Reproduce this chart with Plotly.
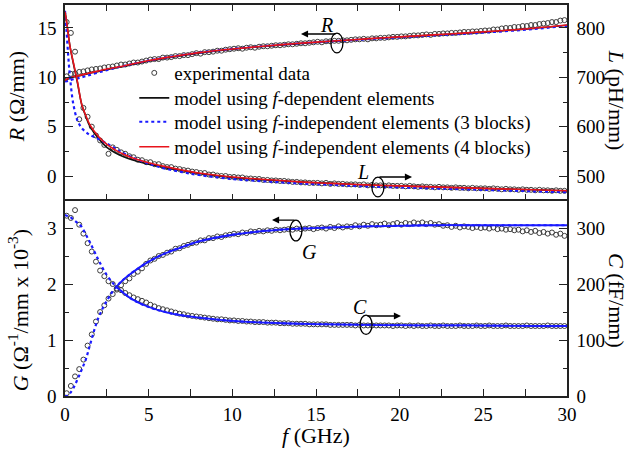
import numpy as np
import plotly.graph_objects as go
from plotly.subplots import make_subplots

# ---------------- data ----------------
# measurement sweep (GHz): 0.1, 0.35, ..., 29.85
f_exp = np.round(0.1 + 0.25 * np.arange(120), 2)

R_exp = [10.1, 10.35, 10.4, 10.55, 10.6, 10.7, 10.8, 10.85, 10.9, 11.0,
         11.05, 11.1, 11.2, 11.3, 11.3, 11.4, 11.5, 11.5, 11.6, 11.7,
         11.8, 11.85, 11.85, 12.0, 12.0, 12.05, 12.15, 12.15, 12.25, 12.25,
         12.35, 12.45, 12.4, 12.55, 12.55, 12.6, 12.7, 12.7, 12.8, 12.85,
         12.9, 12.95, 12.9, 13.0, 13.05, 13.0, 13.1, 13.15, 13.15, 13.2,
         13.25, 13.25, 13.3, 13.35, 13.35, 13.4, 13.45, 13.45, 13.5, 13.55,
         13.6, 13.55, 13.65, 13.65, 13.7, 13.7, 13.75, 13.75, 13.8, 13.85,
         13.85, 13.9, 13.85, 13.95, 13.95, 14.0, 14.0, 14.05, 14.1, 14.1,
         14.15, 14.15, 14.2, 14.25, 14.25, 14.3, 14.35, 14.3, 14.4, 14.4,
         14.45, 14.45, 14.5, 14.5, 14.55, 14.6, 14.6, 14.65, 14.65, 14.7,
         14.75, 14.75, 14.85, 14.85, 14.95, 15.0, 15.0, 15.1, 15.1, 15.2,
         15.2, 15.3, 15.3, 15.4, 15.45, 15.5, 15.6, 15.6, 15.75, 15.8]

L_exp = [812, 790, 752, 615, 638, 620, 600, 582, 572, 563,
         545, 558, 553, 548, 545, 540, 538, 533, 532, 528,
         528, 524, 524, 520, 518, 518, 515, 514, 512, 511,
         509, 508, 506, 506, 503, 503, 501, 500, 500, 498,
         498, 497, 497, 495, 495, 494, 494, 492, 492, 491,
         491, 490, 490, 489, 488, 488, 487, 487, 486, 486,
         486, 485, 486, 484, 485, 484, 484, 483, 483, 483,
         482, 483, 481, 482, 481, 481, 480, 481, 480, 480,
         480, 479, 480, 479, 478, 479, 478, 478, 477, 478,
         477, 477, 476, 477, 476, 476, 475, 476, 475, 475,
         475, 474, 475, 474, 473, 474, 473, 473, 472, 473,
         472, 472, 471, 472, 471, 471, 470, 471, 470, 470]

G_exp = [0.05, 0.18, 0.35, 0.48, 0.65, 0.9, 1.1, 1.33, 1.5, 1.62,
         1.74, 1.82, 1.9, 1.98, 2.05, 2.1, 2.18, 2.22, 2.28, 2.36,
         2.42, 2.45, 2.5, 2.52, 2.56, 2.58, 2.63, 2.64, 2.68, 2.7,
         2.73, 2.74, 2.78, 2.78, 2.82, 2.82, 2.85, 2.84, 2.87, 2.88,
         2.9, 2.89, 2.92, 2.91, 2.94, 2.93, 2.95, 2.94, 2.96, 2.95,
         2.97, 2.96, 2.97, 2.98, 2.97, 2.99, 2.98, 2.99, 3.0, 2.98,
         3.0, 3.01, 2.99, 3.02, 3.0, 3.03, 3.01, 3.03, 3.02, 3.05,
         3.03, 3.06, 3.04, 3.07, 3.05, 3.06, 3.08, 3.05, 3.07, 3.09,
         3.06, 3.09, 3.07, 3.1, 3.08, 3.1, 3.07, 3.09, 3.06, 3.07,
         3.04, 3.05, 3.02, 3.04, 3.01, 3.03, 3.02, 3.0, 3.02, 3.0,
         3.01, 2.99, 3.01, 2.98, 2.99, 2.97, 2.98, 2.96, 2.97, 2.94,
         2.96, 2.93, 2.95, 2.91, 2.93, 2.9, 2.92, 2.88, 2.9, 2.86]

C_exp = [322, 318, 332, 306, 290, 273, 258, 240, 224, 214,
         205, 200, 192, 189, 184, 180, 176, 173, 170, 167,
         163, 160, 157, 155, 153, 151, 149, 147, 146, 144,
         143, 142, 141, 140, 139, 138, 137, 137, 136, 135,
         135, 134, 134, 133, 133, 132, 132, 132, 131, 131,
         131, 130, 130, 130, 129, 129, 129, 129, 128, 128,
         128, 128, 128, 127, 127, 127, 127, 127, 127, 126,
         127, 126, 126, 126, 126, 126, 126, 126, 125, 126,
         126, 125, 126, 125, 126, 125, 125, 126, 125, 125,
         126, 125, 125, 125, 126, 125, 125, 125, 126, 125,
         125, 126, 125, 125, 125, 126, 125, 125, 125, 125,
         126, 125, 125, 125, 125, 126, 125, 125, 125, 125]

# model curves
f_mod = [0, 0.1, 0.2, 0.3, 0.5, 0.75, 1, 1.25, 1.5, 2, 2.5, 3, 3.5, 4, 5, 6, 7, 8,
         10, 12, 14, 16, 18, 20, 22, 24, 26, 28, 30]

R_fdep = [9.65, 9.75, 9.85, 9.92, 10.02, 10.12, 10.22, 10.32, 10.42, 10.6, 10.8, 10.95,
          11.1, 11.3, 11.65, 11.95, 12.2, 12.45, 12.85, 13.15, 13.42, 13.66, 13.88,
          14.08, 14.28, 14.48, 14.7, 14.96, 15.28]
R_3blk = [9.6, 9.6, 9.65, 9.7, 9.8, 9.9, 10.0, 10.12, 10.25, 10.5, 10.72, 10.95,
          11.15, 11.35, 11.7, 12.0, 12.25, 12.5, 12.88, 13.18, 13.44, 13.66, 13.86,
          14.05, 14.24, 14.43, 14.64, 14.9, 15.22]
R_4blk = [9.7, 9.8, 9.9, 9.95, 10.05, 10.15, 10.25, 10.35, 10.45, 10.65, 10.85, 11.0,
          11.15, 11.35, 11.7, 12.0, 12.25, 12.5, 12.87, 13.18, 13.45, 13.68, 13.9,
          14.1, 14.3, 14.5, 14.72, 14.98, 15.3]

L_fdep = [833, 812, 786, 762, 728, 688, 645, 620, 600, 576, 558, 547, 539, 533,
          524, 517, 511, 505, 497, 492, 488, 485, 482, 480, 478, 476, 474, 472, 470]
L_3blk = [835, 790, 740, 700, 645, 612, 597, 589, 583, 575, 566, 556, 546, 538,
          525, 515, 508, 502, 494, 489, 485, 482, 479, 477, 475, 473, 471, 469, 467]
L_4blk = [833, 812, 786, 762, 730, 690, 645, 622, 603, 580, 564, 553, 544, 537,
          527, 519, 512, 506, 498, 493, 488, 485, 482, 480, 478, 476, 474, 472, 470]

G_mod = [0.0, 0.0, 0.02, 0.05, 0.14, 0.3, 0.47, 0.66, 0.92, 1.4, 1.7, 1.93, 2.08, 2.2,
         2.4, 2.55, 2.66, 2.76, 2.88, 2.95, 2.99, 3.01, 3.03, 3.04, 3.05, 3.05, 3.05,
         3.05, 3.05]
C_mod = [323, 322, 321, 320, 315, 309, 302, 288, 274, 243, 216, 197, 184, 173,
         159, 150, 144, 140, 134, 131, 129, 128, 127, 126.5, 126, 126, 125.5, 125, 125]

# x tick positions / labels (labels only at multiples of 5)
x_tickvals = [0, 2.5, 5, 7.5, 10, 12.5, 15, 17.5, 20, 22.5, 25, 27.5, 30]
x_ticktext = ["0", "", "5", "", "10", "", "15", "", "20", "", "25", "", "30"]

# ---------------- figure ----------------
FONT = "Times New Roman, Liberation Serif, DejaVu Serif, serif"
BLACK = "#111111"
BLUE = "#1a1aff"
RED = "#e8141c"
GRAY = "#3c3c3c"

fig = make_subplots(rows=2, cols=1, shared_xaxes=False, vertical_spacing=0,
                    specs=[[{"secondary_y": True}], [{"secondary_y": True}]])

mk = dict(symbol="circle-open", size=5, color=GRAY, line=dict(width=1))
dot = dict(color=BLUE, width=2.2, dash="3px,3px")

# top panel: R (left) and L (right); one single-entry legend per series
fig.add_trace(go.Scatter(x=f_exp, y=R_exp, mode="markers", marker=mk, legend="legend",
                         name="experimental data"), row=1, col=1, secondary_y=False)
fig.add_trace(go.Scatter(x=f_mod, y=R_fdep, mode="lines", legend="legend2",
                         line=dict(color=BLACK, width=1.6, shape="spline"),
                         name="model using <i>f</i>-dependent elements"), row=1, col=1, secondary_y=False)
fig.add_trace(go.Scatter(x=f_mod, y=R_3blk, mode="lines", legend="legend3",
                         line=dict(**dot, shape="spline"),
                         name="model using <i>f</i>-independent elements (3 blocks)"), row=1, col=1, secondary_y=False)
fig.add_trace(go.Scatter(x=f_mod, y=R_4blk, mode="lines", legend="legend4",
                         line=dict(color=RED, width=1.6, shape="spline"),
                         name="model using <i>f</i>-independent elements (4 blocks)"), row=1, col=1, secondary_y=False)

fig.add_trace(go.Scatter(x=f_exp, y=L_exp, mode="markers", marker=mk, showlegend=False),
              row=1, col=1, secondary_y=True)
fig.add_trace(go.Scatter(x=f_mod, y=L_fdep, mode="lines", line=dict(color=BLACK, width=1.6, shape="spline"),
                         showlegend=False), row=1, col=1, secondary_y=True)
fig.add_trace(go.Scatter(x=f_mod, y=L_3blk, mode="lines", line=dict(**dot, shape="spline"),
                         showlegend=False), row=1, col=1, secondary_y=True)
fig.add_trace(go.Scatter(x=f_mod, y=L_4blk, mode="lines", line=dict(color=RED, width=1.6, shape="spline"),
                         showlegend=False), row=1, col=1, secondary_y=True)

# bottom panel: G (left) and C (right)
i3 = f_mod.index(3)
fig.add_trace(go.Scatter(x=f_exp, y=G_exp, mode="markers", marker=mk, showlegend=False),
              row=2, col=1, secondary_y=False)
fig.add_trace(go.Scatter(x=f_mod, y=G_mod, mode="lines", line=dict(**dot, shape="spline"),
                         showlegend=False), row=2, col=1, secondary_y=False)
fig.add_trace(go.Scatter(x=f_mod[i3:], y=G_mod[i3:], mode="lines",
                         line=dict(color=BLUE, width=1.8, shape="spline"), showlegend=False),
              row=2, col=1, secondary_y=False)
fig.add_trace(go.Scatter(x=f_exp, y=C_exp, mode="markers", marker=mk, showlegend=False),
              row=2, col=1, secondary_y=True)
fig.add_trace(go.Scatter(x=f_mod, y=C_mod, mode="lines", line=dict(**dot, shape="spline"),
                         showlegend=False), row=2, col=1, secondary_y=True)
fig.add_trace(go.Scatter(x=f_mod[i3:], y=C_mod[i3:], mode="lines",
                         line=dict(color=BLUE, width=1.8, shape="spline"), showlegend=False),
              row=2, col=1, secondary_y=True)

tickfont = dict(family=FONT, size=19, color="black")
common = dict(showgrid=False, zeroline=False, showline=True, linecolor="#222", linewidth=1.5,
              ticks="inside", tickwidth=1.3, tickcolor="#222", tickfont=tickfont,
              automargin=False)

split = 0.5026
leg = dict(x=0.138, xanchor="left", yanchor="middle", bgcolor="rgba(0,0,0,0)",
           font=dict(family=FONT, size=19, color="black"))
fig.update_layout(
    width=632, height=455, paper_bgcolor="white", plot_bgcolor="white",
    margin=dict(l=65, r=65, t=5, b=59, autoexpand=False),
    font=dict(family=FONT, size=19, color="black"),
    xaxis=dict(domain=[0, 1], range=[0, 30], tickvals=x_tickvals, ticklen=6, mirror="ticks",
               showticklabels=False, **common),
    xaxis2=dict(domain=[0, 1], range=[0, 30], tickvals=x_tickvals, ticktext=x_ticktext,
                ticklen=7, ticklabelstandoff=0, **common),
    # top edge of the lower panel: ticks pointing down into the lower panel
    xaxis3=dict(domain=[0, 1], range=[0, 30], tickvals=x_tickvals, ticklen=6, side="top",
                anchor="y3", overlaying="x2", showticklabels=False, **common),
    yaxis=dict(domain=[split, 1], range=[-2.38, 17.33], dtick=5, tick0=0, ticklen=8, ticklabelstandoff=3,
               minor=dict(ticks="inside", dtick=2.5, ticklen=4, tickcolor="#222"), **common),
    yaxis2=dict(domain=[split, 1], range=[452.4, 846.6], dtick=100, tick0=0, side="right", ticklen=8,
                ticklabelstandoff=4,
                minor=dict(ticks="inside", dtick=50, ticklen=4, tickcolor="#222"), **common),
    yaxis3=dict(domain=[0, split], range=[0, 3.51], dtick=1, tick0=0, ticklen=8, ticklabelstandoff=3,
                minor=dict(ticks="inside", dtick=0.5, ticklen=4, tickcolor="#222"), **common),
    yaxis4=dict(domain=[0, split], range=[0, 351], dtick=100, tick0=0, side="right", ticklen=8,
                ticklabelstandoff=4,
                minor=dict(ticks="inside", dtick=50, ticklen=4, tickcolor="#222"), **common),
    legend=dict(y=0.826, **leg),
    legend2=dict(y=0.762, **leg),
    legend3=dict(y=0.701, **leg),
    legend4=dict(y=0.637, **leg),
    showlegend=True,
)

# axis titles
def ttl(text, x, y, angle):
    fig.add_annotation(text=text, x=x, y=y, xref="paper", yref="paper", showarrow=False,
                       textangle=angle, xanchor="center", yanchor="middle",
                       font=dict(family=FONT, size=22, color="black"))

ttl("<i>R</i> (Ω/mm)", -0.095, 0.765, -90)
ttl("<i>G</i> (Ω<sup>-1</sup>/mm x 10<sup>-3</sup>)", -0.093, 0.22, -90)
ttl("<i>L</i> (pH/mm)", 1.1, 0.757, 90)
ttl("<i>C</i> (fF/mm)", 1.1, 0.245, 90)
ttl("<i>f</i> (GHz)", 0.5, -0.1, 0)

# in-plot labels, arrows and ellipses
lab = dict(showarrow=False, font=dict(family=FONT, size=20, color="black"))
arr = dict(text="", showarrow=True, arrowhead=2, arrowsize=1.1, arrowwidth=1.3, arrowcolor="black")

fig.add_annotation(x=15.6, y=15.3, xref="x", yref="y", text="<i>R</i>", **lab)
fig.add_annotation(x=14.1, y=14.39, ax=16.25, ay=14.39, xref="x", yref="y", axref="x", ayref="y", **arr)
fig.add_shape(type="circle", xref="x", yref="y", x0=16.25 - 0.36, x1=16.25 + 0.36,
              y0=13.48 - 1.0, y1=13.48 + 1.0, line=dict(color="black", width=1.3))

fig.add_annotation(x=17.8, y=508, xref="x", yref="y2", text="<i>L</i>", **lab)
fig.add_annotation(x=20.74, y=498, ax=18.7, ay=498, xref="x", yref="y2", axref="x", ayref="y2", **arr)
fig.add_shape(type="circle", xref="x", yref="y2", x0=18.7 - 0.36, x1=18.7 + 0.36,
              y0=477.7 - 20, y1=477.7 + 20, line=dict(color="black", width=1.3))

fig.add_annotation(x=14.64, y=2.57, xref="x2", yref="y3", text="<i>G</i>", **lab)
fig.add_annotation(x=12.37, y=3.143, ax=13.8, ay=3.143, xref="x2", yref="y3", axref="x2", ayref="y3", **arr)
fig.add_shape(type="circle", xref="x2", yref="y3", x0=13.8 - 0.36, x1=13.8 + 0.36,
              y0=2.955 - 0.185, y1=2.955 + 0.185, line=dict(color="black", width=1.3))

fig.add_annotation(x=17.63, y=159, xref="x2", yref="y4", text="<i>C</i>", **lab)
fig.add_annotation(x=20.08, y=142.9, ax=17.99, ay=142.9, xref="x2", yref="y4", axref="x2", ayref="y4", **arr)
fig.add_shape(type="circle", xref="x2", yref="y4", x0=17.99 - 0.36, x1=17.99 + 0.36,
              y0=127.3 - 17.3, y1=127.3 + 17.3, line=dict(color="black", width=1.3))

fig.write_html("out.html", config={"displayModeBar": False},
               post_script="document.body.style.margin='0';")
